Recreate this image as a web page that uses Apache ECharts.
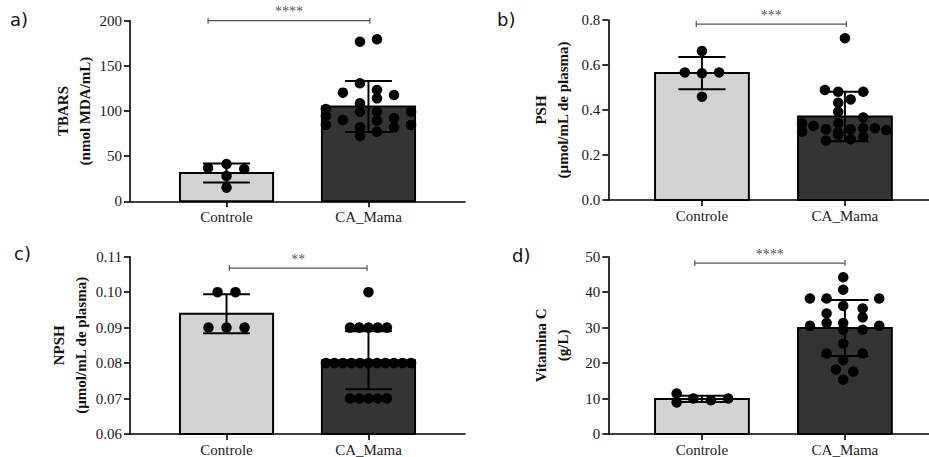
<!DOCTYPE html>
<html>
<head>
<meta charset="utf-8">
<script src="https://cdn.jsdelivr.net/npm/echarts@6/dist/echarts.min.js"></script>
<style>
  html, body { margin: 0; padding: 0; background: #fff; }
  #chart { width: 929px; height: 457px; }
</style>
</head>
<body>
<div id="chart"></div>
<script>
// ---------- DATA ----------
const categories = ['Controle', 'CA_Mama'];
const panelLetters = ['a)', 'b)', 'c)', 'd)'];
const yTitles = ['TBARS\n(nmol MDA/mL)', 'PSH\n(µmol/mL de plasma)', 'NPSH\n(µmol/mL de plasma)', 'Vitamina C\n(g/L)'];
const sigLabels = ['****', '***', '**', '****'];

// a) TBARS
const tbarsMean = [31.3, 105.0];
const tbarsSD = [10.5, 28.3];
const tbarsControleY = [37.0, 41.3, 35.8, 28.0, 15.1];
const tbarsControleDx = [-0.13, 0, 0.125, 0, 0];
const tbarsMamaY = [176.7, 179.4, 130.7, 120.3, 123.3, 117.7, 114.0, 108.5, 102.2, 99.2, 99.2, 99.2, 94.5, 90.0, 89.3, 91.9, 84.5, 84.5, 81.9, 81.9, 77.1, 72.3];
const tbarsMamaDx = [-0.06, 0.06, -0.06, -0.18, 0.06, 0.18, 0.06, -0.06, -0.30, -0.06, 0.06, 0.30, -0.30, -0.18, 0.06, 0.18, -0.30, 0.30, -0.06, 0.18, 0.06, -0.06];
const tbarsTicks = [0, 200, 50];
const tbarsSig = [-0.13, 1.01, 200];

// b) PSH
const pshMean = [0.564, 0.371];
const pshSD = [0.072, 0.110];
const pshControleY = [0.662, 0.567, 0.563, 0.567, 0.459];
const pshControleDx = [0, -0.12, 0, 0.12, 0];
const pshMamaY = [0.719, 0.489, 0.481, 0.481, 0.432, 0.447, 0.392, 0.367, 0.341, 0.329, 0.341, 0.304, 0.314, 0.314, 0.319, 0.319, 0.311, 0.289, 0.281, 0.270, 0.264, 0.300];
const pshMamaDx = [0, -0.14, -0.047, 0.128, -0.047, 0.04, -0.047, 0.128, -0.30, -0.22, -0.047, -0.30, -0.133, 0.04, 0.128, 0.21, 0.29, -0.047, 0.128, 0.04, -0.133, -0.047];
const pshTicks = [0, 0.8, 0.2];
const pshSig = [-0.04, 1.01, 0.782];

// c) NPSH
const npshMean = [0.0939, 0.0808];
const npshSD = [0.0055, 0.0082];
const npshControleY = [0.10, 0.10, 0.09, 0.09, 0.09];
const npshControleDx = [-0.063, 0.063, -0.127, 0, 0.127];
const npshMamaY = [0.10, 0.09, 0.09, 0.09, 0.09, 0.09, 0.08, 0.08, 0.08, 0.08, 0.08, 0.08, 0.08, 0.08, 0.08, 0.08, 0.08, 0.07, 0.07, 0.07, 0.07, 0.07];
const npshMamaDx = [0, -0.13, -0.065, 0, 0.065, 0.13, -0.30, -0.24, -0.18, -0.12, -0.06, 0, 0.06, 0.12, 0.18, 0.24, 0.30, -0.13, -0.065, 0, 0.065, 0.13];
const npshTicks = [0.06, 0.11, 0.01];
const npshSig = [0.02, 0.99, 0.1068];

// d) Vitamina C
const vitMean = [9.9, 29.9];
const vitSD = [0.9, 7.9];
const vitControleY = [11.4, 8.9, 10.0, 9.5, 10.0];
const vitControleDx = [-0.177, -0.177, -0.06, 0.063, 0.184];
const vitMamaY = [44.2, 40.7, 38.2, 38.2, 38.2, 36.1, 35.4, 34.0, 32.9, 31.3, 31.3, 30.5, 30.5, 29.4, 29.4, 25.5, 22.7, 22.7, 20.8, 18.2, 17.6, 15.3];
const vitMamaDx = [-0.012, -0.012, -0.245, -0.128, 0.24, -0.012, 0.124, -0.128, 0.124, -0.128, -0.012, -0.245, 0.24, -0.012, 0.124, -0.012, -0.128, 0.124, -0.012, -0.063, 0.058, -0.012];
const vitTicks = [0, 50, 10];
const vitSig = [-0.05, 1.0, 48.2];

// ---------- BUILD ----------
const panels = [
  { mean: tbarsMean, sd: tbarsSD, cy: tbarsControleY, cdx: tbarsControleDx, my: tbarsMamaY, mdx: tbarsMamaDx, ticks: tbarsTicks, sig: tbarsSig, dec: 0 },
  { mean: pshMean, sd: pshSD, cy: pshControleY, cdx: pshControleDx, my: pshMamaY, mdx: pshMamaDx, ticks: pshTicks, sig: pshSig, dec: 1 },
  { mean: npshMean, sd: npshSD, cy: npshControleY, cdx: npshControleDx, my: npshMamaY, mdx: npshMamaDx, ticks: npshTicks, sig: npshSig, dec: 2 },
  { mean: vitMean, sd: vitSD, cy: vitControleY, cdx: vitControleDx, my: vitMamaY, mdx: vitMamaDx, ticks: vitTicks, sig: vitSig, dec: 0 }
];

const gridLayout = [
  { left: 130, top: 20.7, width: 335, height: 180.6, xmin: -0.68, xmax: 1.68, nameGap: 34 },
  { left: 608.3, top: 20, width: 320.7, height: 180, xmin: -0.655, xmax: 1.588, nameGap: 34 },
  { left: 130, top: 256.7, width: 335, height: 180.6, xmin: -0.68, xmax: 1.68, nameGap: 38 },
  { left: 608.3, top: 256.7, width: 320.7, height: 180, xmin: -0.655, xmax: 1.588, nameGap: 34 }
];
const letterPos = [[10, 10], [497, 10], [14, 244], [512, 246]];
const barFill = ['#d3d3d3', '#343434'];
const serif = '"Liberation Serif", "Times New Roman", serif';

const option = {
  animation: false,
  backgroundColor: '#fff',
  title: [], grid: [], xAxis: [], yAxis: [], series: []
};

panels.forEach((p, i) => {
  const g = gridLayout[i];
  const yMin = p.ticks[0];
  option.title.push({
    text: panelLetters[i], left: letterPos[i][0], top: letterPos[i][1], padding: 0,
    textStyle: { fontFamily: 'DejaVu Sans', fontSize: 18, fontWeight: 'normal', color: '#111' }
  });
  option.grid.push({ left: g.left, top: g.top, width: g.width, height: g.height });
  option.xAxis.push({
    type: 'value', gridIndex: i, min: g.xmin, max: g.xmax,
    splitLine: { show: false },
    axisLine: { show: true, onZero: false, lineStyle: { color: '#000', width: 1.6 } },
    axisTick: { show: true, customValues: [0, 1], length: 6, lineStyle: { color: '#000', width: 1.6 } },
    axisLabel: {
      show: true, customValues: [0, 1], margin: 8,
      formatter: v => categories[Math.round(v)],
      fontFamily: serif, fontSize: 15, color: '#1a1a1a'
    }
  });
  option.yAxis.push({
    type: 'value', gridIndex: i, min: p.ticks[0], max: p.ticks[1], interval: p.ticks[2],
    splitLine: { show: false },
    axisLine: { show: true, onZero: false, lineStyle: { color: '#000', width: 1.6 } },
    axisTick: { show: true, length: 6, lineStyle: { color: '#000', width: 1.6 } },
    axisLabel: { margin: 8, fontFamily: serif, fontSize: 15, color: '#1a1a1a', formatter: v => v.toFixed(p.dec) },
    name: yTitles[i], nameLocation: 'middle', nameRotate: 90, nameGap: g.nameGap,
    nameTextStyle: { fontFamily: serif, fontWeight: 'bold', fontSize: 15, lineHeight: 22, color: '#111' }
  });

  // bars
  option.series.push({
    type: 'custom', xAxisIndex: i, yAxisIndex: i, z: 1, clip: false,
    data: p.mean.map((m, k) => [k, m]),
    renderItem: (params, api) => {
      const x = api.value(0), m = api.value(1);
      const a = api.coord([x - 0.328, m]);
      const b = api.coord([x + 0.328, yMin]);
      return {
        type: 'rect',
        shape: { x: a[0], y: a[1], width: b[0] - a[0], height: b[1] - a[1] },
        style: { fill: barFill[params.dataIndex], stroke: '#000', lineWidth: 2 }
      };
    }
  });
  // error bars
  option.series.push({
    type: 'custom', xAxisIndex: i, yAxisIndex: i, z: 2, clip: false,
    data: p.mean.map((m, k) => [k, m, p.sd[k]]),
    renderItem: (params, api) => {
      const x = api.value(0), m = api.value(1), s = api.value(2);
      const top = api.coord([x, m + s]), bot = api.coord([x, m - s]);
      const tl = api.coord([x - 0.165, m + s]), tr = api.coord([x + 0.165, m + s]);
      const bl = api.coord([x - 0.165, m - s]), br = api.coord([x + 0.165, m - s]);
      const st = { stroke: '#000', lineWidth: 2 };
      return {
        type: 'group', children: [
          { type: 'line', shape: { x1: top[0], y1: top[1], x2: bot[0], y2: bot[1] }, style: st },
          { type: 'line', shape: { x1: tl[0], y1: tl[1], x2: tr[0], y2: tr[1] }, style: st },
          { type: 'line', shape: { x1: bl[0], y1: bl[1], x2: br[0], y2: br[1] }, style: st }
        ]
      };
    }
  });
  // dots
  const dots = p.cy.map((y, k) => [0 + p.cdx[k], y]).concat(p.my.map((y, k) => [1 + p.mdx[k], y]));
  option.series.push({
    type: 'scatter', xAxisIndex: i, yAxisIndex: i, z: 3, clip: false,
    symbolSize: 10.5, itemStyle: { color: '#000', opacity: 1 },
    data: dots
  });
  // significance bar
  option.series.push({
    type: 'custom', xAxisIndex: i, yAxisIndex: i, z: 2, clip: false,
    data: [[p.sig[0], p.sig[1], p.sig[2]]],
    renderItem: (params, api) => {
      const a = api.coord([api.value(0), api.value(2)]);
      const b = api.coord([api.value(1), api.value(2)]);
      const st = { stroke: '#555', lineWidth: 1.2 };
      return {
        type: 'group', children: [
          { type: 'line', shape: { x1: a[0], y1: a[1], x2: b[0], y2: b[1] }, style: st },
          { type: 'line', shape: { x1: a[0], y1: a[1] - 3, x2: a[0], y2: a[1] + 3 }, style: st },
          { type: 'line', shape: { x1: b[0], y1: b[1] - 3, x2: b[0], y2: b[1] + 3 }, style: st },
          { type: 'text', style: {
              text: sigLabels[i], x: (a[0] + b[0]) / 2, y: a[1] - 2,
              textAlign: 'center', textVerticalAlign: 'bottom',
              fontFamily: serif, fontSize: 14, fill: '#555'
          } }
        ]
      };
    }
  });
});

const chart = echarts.init(document.getElementById('chart'), null, { renderer: 'svg', width: 929, height: 457 });
chart.setOption(option);
</script>
</body>
</html>
